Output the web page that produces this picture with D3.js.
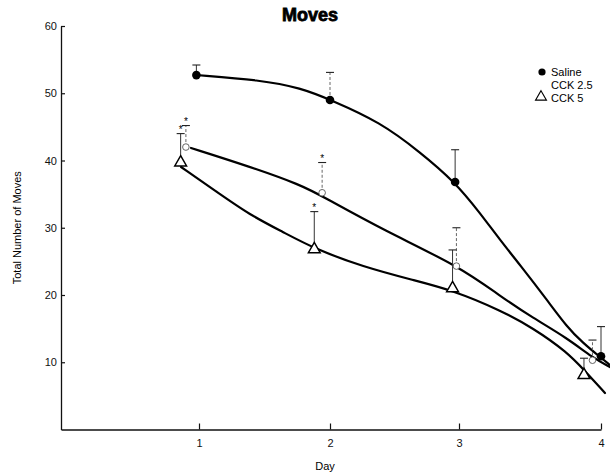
<!DOCTYPE html>
<html><head><meta charset="utf-8">
<script src="https://cdn.jsdelivr.net/npm/d3@7"></script>
<style>html,body{margin:0;padding:0;background:#fff}svg{display:block}</style>
</head><body>
<svg id="c" width="610" height="476"></svg>
<script>
// ---- data ----
const title = "Moves";
const xLabel = "Day";
const yLabel = "Total Number of Moves";
const dayTicks = [1, 2, 3, 4];
const yTicks = [10, 20, 30, 40, 50, 60];
const seriesNames = ["Saline", "CCK 2.5", "CCK 5"];

// measured points (day positions carry the small offsets of the original plot)
const salineDays = [0.98, 2.0, 2.97, 4.0];
const salineMeans = [52.7, 49.0, 36.8, 10.9];
const salineErrTop = [54.2, 53.1, 41.6, 15.3];

const cck25Days = [0.9, 1.94, 2.98, 3.94];
const cck25Means = [42.0, 35.2, 24.3, 10.3];
const cck25ErrTop = [45.2, 39.7, 30.0, 13.3];
const cck25Star = [true, true, false, false];

const cck5Days = [0.86, 1.88, 2.95, 3.88];
const cck5Means = [39.7, 26.8, 21.0, 8.1];
const cck5ErrTop = [44.0, 32.4, 26.7, 10.6];
const cck5Star = [true, true, false, false];

// fitted curves
const salineFitDays = [0.977, 1.466, 1.779, 2.008, 2.388, 2.698, 2.969, 3.148, 3.289, 3.43, 3.62, 3.761, 3.873, 3.993, 4.063];
const salineFitVals = [52.71, 51.97, 50.78, 48.99, 45.72, 41.26, 36.8, 32.19, 28.18, 24.46, 19.26, 15.24, 12.86, 10.78, 9.59];
const cck25FitDays = [0.939, 1.389, 1.779, 1.947, 2.411, 3.007, 3.289, 3.521, 3.761, 3.944, 4.063];
const cck25FitVals = [41.86, 39.08, 36.36, 34.62, 29.67, 24.21, 19.85, 16.58, 13.61, 10.63, 9.29];
const cck5FitDays = [0.863, 1.137, 1.389, 1.641, 1.885, 2.256, 2.643, 2.946, 3.289, 3.521, 3.761, 3.887, 4.028];
const cck5FitVals = [39.03, 35.32, 31.9, 29.37, 26.84, 24.21, 22.23, 20.74, 17.77, 15.09, 11.52, 8.7, 5.43];

// ---- drawing ----
const svg = d3.select("#c");
const FONT = "'Liberation Sans', Arial, Helvetica, sans-serif";

const x = d3.scaleLinear().domain([-0.053, 1, 2, 3, 4]).range([61, 199, 330, 459, 601]);
const y = d3.scaleLinear().domain([0, 60]).range([429.5, 26]);

// title
svg.append("text").attr("x", 310).attr("y", 21).attr("text-anchor", "middle")
  .attr("font-family", FONT).attr("font-weight", "900").attr("font-size", 18)
  .attr("stroke", "#000").attr("stroke-width", 0.8)
  .text(title);

// y axis
const yAxis = svg.append("g").attr("transform", `translate(${x(-0.053)},0)`)
  .call(d3.axisLeft(y).tickValues(yTicks).tickSizeInner(-4).tickSizeOuter(0).tickPadding(4));
// x axis
const xAxis = svg.append("g").attr("transform", `translate(0,${y(0)})`)
  .call(d3.axisBottom(x).tickValues(dayTicks).tickSizeInner(-6).tickSizeOuter(0).tickPadding(10).tickFormat(d3.format("d")));
[yAxis, xAxis].forEach(g => {
  g.select(".domain").attr("stroke", "#111").attr("stroke-width", 1.3);
  g.selectAll(".tick line").attr("stroke", "#111").attr("stroke-width", 1.2);
  g.selectAll(".tick text").attr("font-family", FONT).attr("font-size", 11).attr("fill", "#111");
});

// axis titles
svg.append("text").attr("x", 325).attr("y", 470).attr("text-anchor", "middle")
  .attr("font-family", FONT).attr("font-size", 11).text(xLabel);
svg.append("text").attr("transform", `translate(21,${y(30)}) rotate(-90)`).attr("text-anchor", "middle")
  .attr("font-family", FONT).attr("font-size", 11).text(yLabel);

// fitted curves
const line = d3.line().x(d => x(d[0])).y(d => y(d[1])).curve(d3.curveBasis);
[[salineFitDays, salineFitVals], [cck25FitDays, cck25FitVals], [cck5FitDays, cck5FitVals]].forEach(([ds, vs]) => {
  svg.append("path").datum(ds.map((d, i) => [d, vs[i]])).attr("d", line)
    .attr("fill", "none").attr("stroke", "#000").attr("stroke-width", 2.2).attr("stroke-linecap", "round");
});

// error bars
function errBars(days, means, tops, stars, dashedFn) {
  days.forEach((d, i) => {
    const cx = x(d);
    svg.append("line").attr("x1", cx).attr("x2", cx).attr("y1", y(means[i])).attr("y2", y(tops[i]))
      .attr("stroke", dashedFn(i) ? "#666" : "#333").attr("stroke-width", 1)
      .attr("stroke-dasharray", dashedFn(i) ? "3,2" : null);
    svg.append("line").attr("x1", cx - 4).attr("x2", cx + 4).attr("y1", y(tops[i])).attr("y2", y(tops[i]))
      .attr("stroke", "#222").attr("stroke-width", 1.1);
    if (stars && stars[i]) {
      svg.append("text").attr("x", cx).attr("y", y(tops[i]) - 1).attr("text-anchor", "middle")
        .attr("font-family", FONT).attr("font-size", 10).text("*");
    }
  });
}
errBars(salineDays, salineMeans, salineErrTop, null, i => i === 1);
errBars(cck25Days, cck25Means, cck25ErrTop, cck25Star, () => true);
errBars(cck5Days, cck5Means, cck5ErrTop, cck5Star, () => false);

// markers
const tri = d3.symbol().type(d3.symbolTriangle).size(60);
svg.selectAll(".sal").data(salineDays).join("circle")
  .attr("cx", d => x(d)).attr("cy", (d, i) => y(salineMeans[i])).attr("r", 4.3).attr("fill", "#000");
svg.selectAll(".c25").data(cck25Days).join("circle")
  .attr("cx", d => x(d)).attr("cy", (d, i) => y(cck25Means[i])).attr("r", 3.3)
  .attr("fill", "#fff").attr("stroke", "#555").attr("stroke-width", 0.9);
svg.selectAll(".c5").data(cck5Days).join("path")
  .attr("d", tri).attr("transform", (d, i) => `translate(${x(d)},${y(cck5Means[i])})`)
  .attr("fill", "#fff").attr("stroke", "#000").attr("stroke-width", 1.5);

// legend
const lg = svg.append("g").attr("font-family", FONT).attr("font-size", 11);
const lx = 542, ly = [73, 86, 99];
lg.append("circle").attr("cx", lx).attr("cy", ly[0] - 1).attr("r", 3.6).attr("fill", "#000");
lg.append("path").attr("d", d3.symbol().type(d3.symbolTriangle).size(52)).attr("transform", `translate(${lx - 1},${ly[2] - 2})`)
  .attr("fill", "#fff").attr("stroke", "#000").attr("stroke-width", 1.1);
seriesNames.forEach((n, i) => {
  lg.append("text").attr("x", lx + 9).attr("y", ly[i] + 3).text(n);
});
</script>
</body></html>
